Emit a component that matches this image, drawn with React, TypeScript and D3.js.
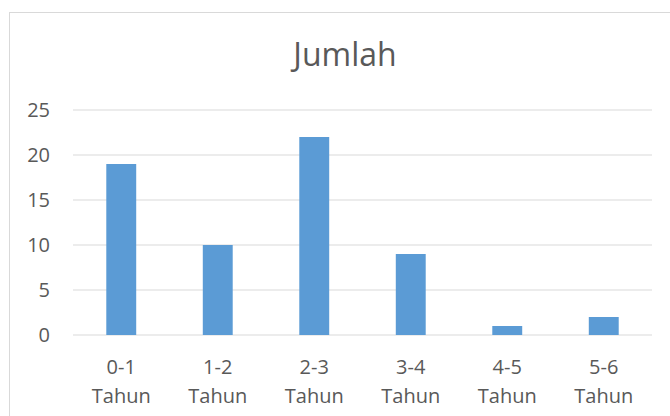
import React from "react";
import * as d3 from "d3";

const categories = ["0-1 Tahun", "1-2 Tahun", "2-3 Tahun", "3-4 Tahun", "4-5 Tahun", "5-6 Tahun"];
const values = [19, 10, 22, 9, 1, 2];
const yTicks = [0, 5, 10, 15, 20, 25];
const title = "Jumlah";

export default function App() {
  const W = 670, H = 416;
  const left = 73, right = 652, top = 110, bottom = 335;
  const x = d3.scaleBand<string>().domain(categories).range([left, right]).paddingInner(0.69).paddingOuter(0.345);
  const y = d3.scaleLinear().domain([0, 25]).range([bottom, top]);
  const font = "'Open Sans', 'Liberation Sans', sans-serif";
  return (
    <svg width={W} height={H} style={{ position: "absolute", left: 0, top: 0, background: "#fff" }} fontFamily={font}>
      <rect x={9.5} y={12.5} width={700} height={450} fill="#fff" stroke="#d9d9d9" strokeWidth={1} />
      <text x={345} y={66} textAnchor="middle" fontSize={32} fill="#595959">{title}</text>
      {yTicks.map(t => (
        <g key={t}>
          <line x1={left} x2={right} y1={y(t)} y2={y(t)} stroke="#d9d9d9" strokeWidth={1} />
          <text x={50} y={y(t)} dy="0.35em" textAnchor="end" fontSize={20} fill="#595959">{t}</text>
        </g>
      ))}
      {categories.map((c, i) => (
        <rect key={c} x={x(c)} y={y(values[i])} width={x.bandwidth()} height={y(0) - y(values[i])} fill="#5B9BD5" />
      ))}
      {categories.map(c => {
        const cx = (x(c) ?? 0) + x.bandwidth() / 2;
        const parts = c.split(" ");
        return (
          <text key={c} textAnchor="middle" fontSize={20} fill="#595959">
            <tspan x={cx} y={374}>{parts[0]}</tspan>
            <tspan x={cx} y={403}>{parts[1]}</tspan>
          </text>
        );
      })}
    </svg>
  );
}
